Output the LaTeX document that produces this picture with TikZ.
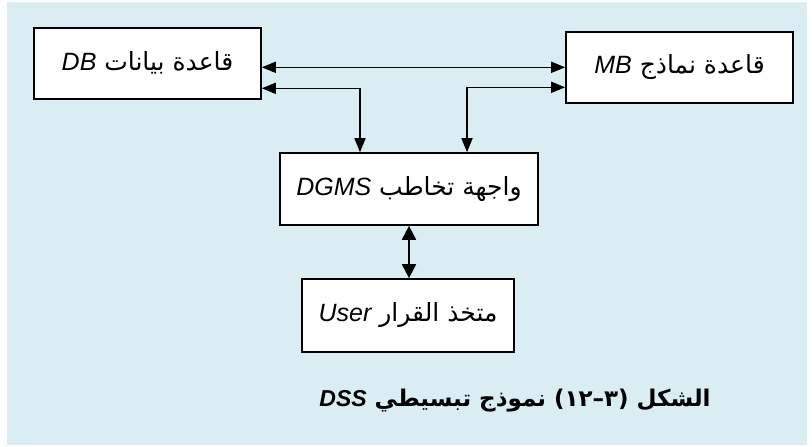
\documentclass[tikz,border=0pt]{standalone}
\usepackage{fontspec}
\usetikzlibrary{arrows.meta}
\TeXXeTstate=1
\newfontfamily\arabicfont[Script=Arabic]{DejaVu Sans}
\newfontfamily\latfont{Liberation Sans}
\definecolor{bgblue}{RGB}{218,237,243}
\tikzset{
  box/.style={draw=black, line width=1.6pt, fill=white, inner sep=0pt, font=\fontsize{25}{30}\selectfont},
  link/.style={line width=1.6pt, {Triangle[length=14pt,width=11pt]}-{Triangle[length=14pt,width=11pt]}},
  vlink/.style={line width=1.6pt, {Triangle[length=14pt,width=14pt]}-{Triangle[length=14pt,width=14pt]}},
}
\newcommand{\ar}[1]{{\arabicfont\beginR #1\endR}}
\newcommand{\lt}[1]{\beginL{\latfont\itshape #1}\endL}
\begin{document}
\begin{tikzpicture}[x=1pt,y=-1pt]
\useasboundingbox (0,0) rectangle (812,447);
\fill[bgblue] (7,2) rectangle (807,445);
\node[box, minimum width=227pt, minimum height=71pt] (db) at (147.5,63.3) {\ar{قاعدة بيانات \lt{DB}}};
\node[box, minimum width=227pt, minimum height=71pt] (mb) at (679.5,67.3) {\ar{قاعدة نماذج \lt{MB}}};
\node[box, minimum width=258pt, minimum height=72pt] (dg) at (409,189) {\ar{واجهة تخاطب \lt{DGMS}}};
\node[box, minimum width=212pt, minimum height=73pt] (us) at (408,315.5) {\ar{متخذ القرار \lt{User}}};
\node[font=\fontsize{23}{28}\selectfont\bfseries] (cap) at (515,401) {\ar{الشكل (٣–١٢) نموذج تبسيطي \beginL{\latfont\bfseries\itshape DSS}\endL}};
\draw[link] (db.east |- mb.west) -- (mb.west);
\draw[link] ([yshift=-25pt]db.east) -| ([xshift=-49pt]dg.north);
\draw[link] ([yshift=-20pt]mb.west) -| ([xshift=58pt]dg.north);
\draw[vlink] (dg.south) -- (dg.south |- us.north);
\end{tikzpicture}
\end{document}
